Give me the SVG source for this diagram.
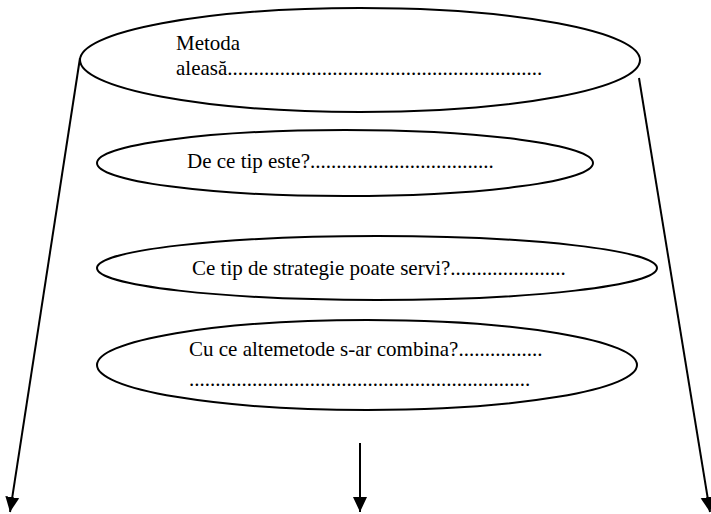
<svg xmlns="http://www.w3.org/2000/svg" width="711" height="514" viewBox="0 0 711 514">
  <style>
    .shape { fill: #ffffff; stroke: #000000; stroke-width: 2; }
    .conn { fill: none; stroke: #000000; stroke-width: 2; }
    .label { font-family: "Liberation Serif", "Times New Roman", "DejaVu Serif", serif; font-size: 21px; fill: #000000; }
  </style>
  <defs>
    <marker id="arrow" markerUnits="userSpaceOnUse" markerWidth="16" markerHeight="16" refX="15" refY="8" orient="auto">
      <path d="M0,1 L15,8 L0,15 Z" fill="#000000"/>
    </marker>
  </defs>

  <!-- connectors -->
  <g id="connectors">
    <line class="conn" x1="80" y1="58" x2="10" y2="512" marker-end="url(#arrow)"/>
    <line class="conn" x1="639" y1="78" x2="710" y2="512" marker-end="url(#arrow)"/>
    <line class="conn" x1="360" y1="443" x2="360" y2="512" marker-end="url(#arrow)"/>
  </g>

  <g id="node-metoda">
    <ellipse class="shape" cx="360" cy="60" rx="280" ry="52"/>
    <text class="label" x="176" y="50">Metoda</text>
    <text class="label" x="176" y="75">aleasă............................................................</text>
  </g>

  <g id="node-tip">
    <ellipse class="shape" cx="345" cy="163" rx="248" ry="33"/>
    <text class="label" x="187" y="168">De ce tip este?...................................</text>
  </g>

  <g id="node-strategie">
    <ellipse class="shape" cx="377" cy="268" rx="280" ry="32"/>
    <text class="label" x="192" y="275">Ce tip de strategie poate servi?......................</text>
  </g>

  <g id="node-combina">
    <ellipse class="shape" cx="367" cy="365" rx="270" ry="45"/>
    <text class="label" x="189" y="356">Cu ce altemetode s-ar combina?................</text>
    <text class="label" x="189" y="386">.................................................................</text>
  </g>
</svg>
